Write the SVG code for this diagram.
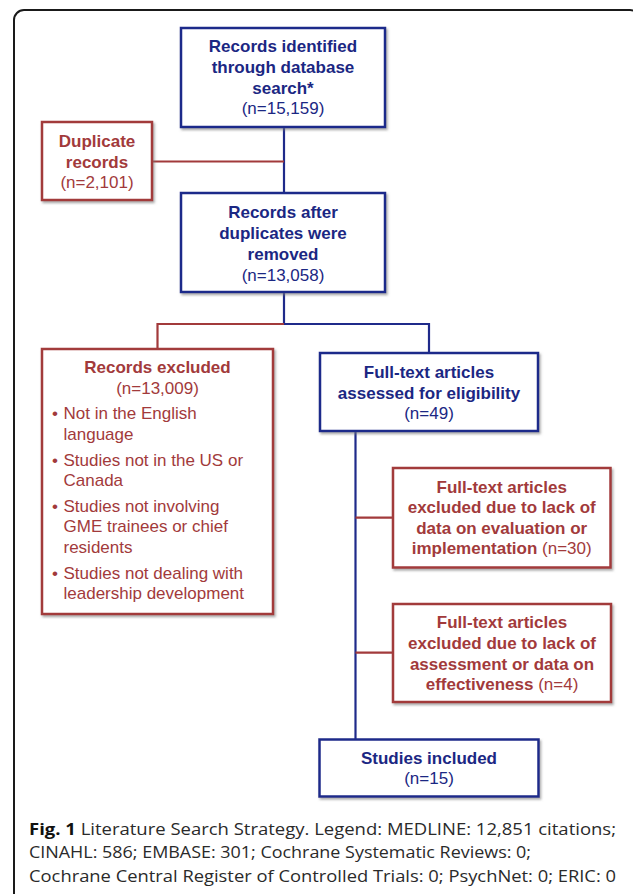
<svg xmlns="http://www.w3.org/2000/svg" width="633" height="894" viewBox="0 0 633 894">
<defs>
<filter id="sh" x="-10%" y="-10%" width="130%" height="130%">
<feDropShadow dx="1.5" dy="2" stdDeviation="1.2" flood-color="#777" flood-opacity="0.6"/>
</filter>
</defs>
<style>
text{font-family:"Liberation Sans",Arial,sans-serif;font-size:17px}
.c{text-anchor:middle}
.bt{fill:#1b2783}
.rt{fill:#a23a3b}
.bold{font-weight:bold}
.nb{fill:#fff;stroke:#1f2a8a;stroke-width:2.5}
.nr{fill:#fff;stroke:#a23a3b;stroke-width:2.5}
.lb{fill:none;stroke:#1f2a8a;stroke-width:2.2}
.lr{fill:none;stroke:#a23a3b;stroke-width:2.2}
.cap{font-family:"Open Sans","Liberation Sans",sans-serif;font-size:16px;fill:#2a2a2a}
</style>
<rect x="0" y="0" width="633" height="894" fill="#fff"/>
<rect x="14" y="10" width="626" height="910" rx="10" ry="10" fill="none" stroke="#1a1a1a" stroke-width="2"/>

<g id="connectors">
<path class="lb" d="M284,127 V193"/>
<path class="lr" d="M152,161.5 H284"/>
<path class="lb" d="M284,292 V324 H429 V353"/>
<path class="lr" d="M284,324 H157.5 V349"/>
<path class="lb" d="M355.5,431 V739.5"/>
<path class="lr" d="M355.5,517.7 H393"/>
<path class="lr" d="M355.5,652.7 H393"/>
</g>

<g id="identified">
<rect class="nb" x="181" y="28" width="204" height="99" filter="url(#sh)"/>
<text class="c bt bold" x="283" y="52">Records identified</text>
<text class="c bt bold" x="283" y="73">through database</text>
<text class="c bt bold" x="283" y="93.5">search*</text>
<text class="c bt" x="283" y="114">(n=15,159)</text>
</g>

<g id="duplicates">
<rect class="nr" x="42" y="122" width="110" height="78" filter="url(#sh)"/>
<text class="c rt bold" x="97" y="146.7">Duplicate</text>
<text class="c rt bold" x="97" y="167.7">records</text>
<text class="c rt" x="97" y="188">(n=2,101)</text>
</g>

<g id="after-duplicates">
<rect class="nb" x="181" y="193" width="204" height="99" filter="url(#sh)"/>
<text class="c bt bold" x="283" y="218.3">Records after</text>
<text class="c bt bold" x="283" y="239">duplicates were</text>
<text class="c bt bold" x="283" y="260">removed</text>
<text class="c bt" x="283" y="280.7">(n=13,058)</text>
</g>

<g id="records-excluded">
<rect class="nr" x="42" y="349" width="231" height="265" filter="url(#sh)"/>
<text class="c rt bold" x="157.5" y="373.3">Records excluded</text>
<text class="c rt" x="157.5" y="394">(n=13,009)</text>
<text class="rt" x="52" y="419.3">•</text>
<text class="rt" x="63.5" y="419.3">Not in the English</text>
<text class="rt" x="63.5" y="440">language</text>
<text class="rt" x="52" y="465.7">•</text>
<text class="rt" x="63.5" y="465.7">Studies not in the US or</text>
<text class="rt" x="63.5" y="486">Canada</text>
<text class="rt" x="52" y="511.7">•</text>
<text class="rt" x="63.5" y="511.7">Studies not involving</text>
<text class="rt" x="63.5" y="532.3">GME trainees or chief</text>
<text class="rt" x="63.5" y="552.7">residents</text>
<text class="rt" x="52" y="579.3">•</text>
<text class="rt" x="63.5" y="579.3">Studies not dealing with</text>
<text class="rt" x="63.5" y="599.3">leadership development</text>
</g>

<g id="assessed">
<rect class="nb" x="320" y="353" width="218" height="78" filter="url(#sh)"/>
<text class="c bt bold" x="429" y="378.3">Full-text articles</text>
<text class="c bt bold" x="429" y="399">assessed for eligibility</text>
<text class="c bt" x="429" y="419.3">(n=49)</text>
</g>

<g id="excluded-evaluation">
<rect class="nr" x="393" y="468" width="217.5" height="99.5" filter="url(#sh)"/>
<text class="c rt bold" x="501.7" y="492.7">Full-text articles</text>
<text class="c rt bold" x="501.7" y="513.3">excluded due to lack of</text>
<text class="c rt bold" x="501.7" y="534">data on evaluation or</text>
<text class="c rt" x="501.7" y="554.3"><tspan font-weight="bold">implementation</tspan> (n=30)</text>
</g>

<g id="excluded-effectiveness">
<rect class="nr" x="393" y="604" width="218" height="98" filter="url(#sh)"/>
<text class="c rt bold" x="502" y="628.3">Full-text articles</text>
<text class="c rt bold" x="502" y="649.3">excluded due to lack of</text>
<text class="c rt bold" x="502" y="670">assessment or data on</text>
<text class="c rt" x="502" y="690"><tspan font-weight="bold">effectiveness</tspan> (n=4)</text>
</g>

<g id="included">
<rect class="nb" x="319.5" y="739.5" width="219" height="57" filter="url(#sh)"/>
<text class="c bt bold" x="429" y="764">Studies included</text>
<text class="c bt" x="429" y="784.3">(n=15)</text>
</g>

<g id="caption">
<text class="cap" x="29" y="835" textLength="587" lengthAdjust="spacingAndGlyphs"><tspan font-weight="bold" fill="#111">Fig. 1</tspan> Literature Search Strategy. Legend: MEDLINE: 12,851 citations;</text>
<text class="cap" x="29" y="858.3" textLength="502" lengthAdjust="spacingAndGlyphs">CINAHL: 586; EMBASE: 301; Cochrane Systematic Reviews: 0;</text>
<text class="cap" x="29" y="882" textLength="587" lengthAdjust="spacingAndGlyphs">Cochrane Central Register of Controlled Trials: 0; PsychNet: 0; ERIC: 0</text>
</g>
</svg>
